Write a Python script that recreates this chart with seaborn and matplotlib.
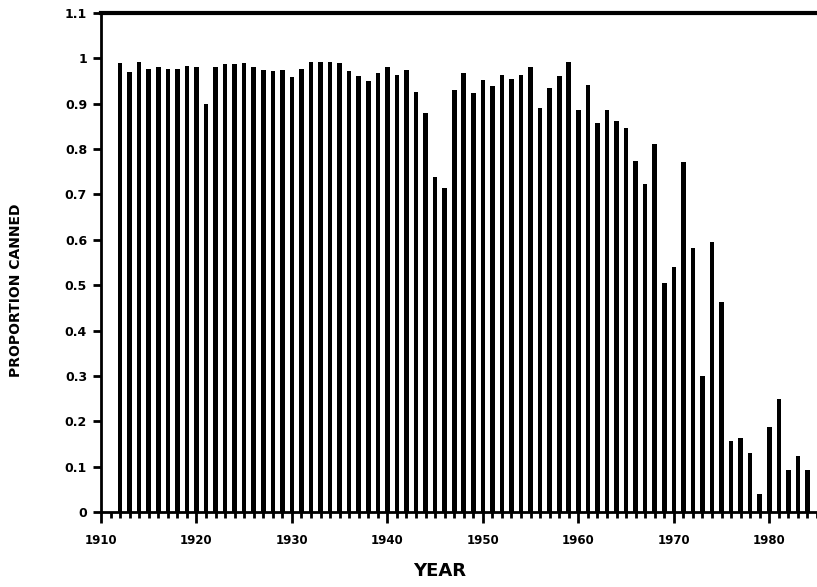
import matplotlib
matplotlib.use("Agg")
import matplotlib.pyplot as plt
from matplotlib.ticker import MultipleLocator, FuncFormatter
import pandas as pd
import seaborn as sns

fontSize = 9

# one bar per year, 1912-1984
years = list(range(1912, 1985))
proportionCanned = [
    0.990, 0.970, 0.993, 0.977, 0.981, 0.976, 0.976, 0.983, 0.981, 0.900,
    0.982, 0.988, 0.988, 0.989, 0.981, 0.974, 0.972, 0.975, 0.959, 0.977,
    0.991, 0.991, 0.991, 0.989, 0.972, 0.961, 0.949, 0.968, 0.981, 0.964,
    0.975, 0.926, 0.880, 0.739, 0.715, 0.931, 0.968, 0.924, 0.952, 0.939,
    0.964, 0.954, 0.964, 0.981, 0.891, 0.935, 0.960, 0.993, 0.887, 0.942,
    0.857, 0.887, 0.862, 0.846, 0.774, 0.722, 0.812, 0.505, 0.540, 0.772,
    0.582, 0.300, 0.595, 0.463, 0.156, 0.164, 0.129, 0.039, 0.188, 0.250,
    0.093, 0.123, 0.093,
]

df = pd.DataFrame({"year": years, "proportion": proportionCanned})

sns.set_style("white")
plt.rcParams["font.family"] = ["DejaVu Sans"]
plt.rcParams["text.color"] = "black"
plt.rcParams["xtick.color"] = "black"
plt.rcParams["ytick.color"] = "black"

fig = plt.figure(figsize=(8.17, 5.87), dpi=100)
ax = fig.add_axes([0.1236, 0.1278, 0.8764, 0.8501])

sns.barplot(data=df, x="year", y="proportion", native_scale=True,
            color="black", width=0.48, edgecolor="black", linewidth=0,
            saturation=1, ax=ax)

ax.set_xlim(1910.0, 1985.0)
ax.set_ylim(0, 1.1)

ax.xaxis.set_major_locator(MultipleLocator(10))
ax.xaxis.set_minor_locator(MultipleLocator(1))
ax.xaxis.set_major_formatter(FuncFormatter(lambda v, p: "%d" % v))
ax.yaxis.set_major_locator(MultipleLocator(0.1))
ax.yaxis.set_major_formatter(FuncFormatter(lambda v, p: ("%.1f" % v).rstrip("0").rstrip(".")))

ax.tick_params(axis="x", which="major", direction="out", length=8, width=2,
               labelsize=fontSize - 0.5, pad=8, bottom=True, colors="black")
ax.tick_params(axis="x", which="minor", direction="out", length=4, width=2,
               bottom=True, colors="black")
ax.tick_params(axis="y", which="major", direction="out", length=6, width=2,
               labelsize=fontSize, pad=4, left=True, colors="black")
for lab in ax.get_xticklabels() + ax.get_yticklabels():
    lab.set_fontweight("bold")

for side in ["left", "bottom"]:
    ax.spines[side].set_linewidth(2)
    ax.spines[side].set_color("black")
ax.spines["top"].set_linewidth(3)
ax.spines["top"].set_color("black")
ax.spines["right"].set_visible(False)

ax.set_xlabel("")
ax.set_ylabel("")
fig.text(0.538, 0.028, "YEAR", fontsize=13, fontweight="bold", color="black",
         ha="center", va="center")
fig.text(0.02, 0.505, "PROPORTION CANNED", fontsize=10, fontweight="bold",
         color="black", rotation=90, ha="center", va="center")

fig.savefig("out.png", dpi=100)
